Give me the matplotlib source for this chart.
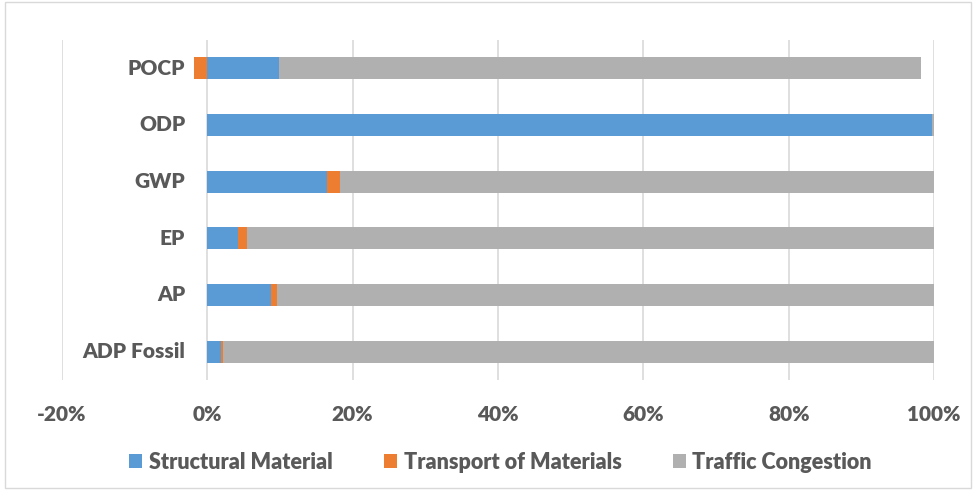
import matplotlib
matplotlib.use("Agg")
import matplotlib.pyplot as plt
from matplotlib.patches import Rectangle
from matplotlib.ticker import FuncFormatter
from matplotlib.transforms import offset_copy

plt.rcParams['font.family'] = ['Lato', 'DejaVu Sans']

# --- data (percent of total impact) ---
categories = ["ADP Fossil", "AP", "EP", "GWP", "ODP", "POCP"]
structural = [1.9, 8.8, 4.2, 16.5, 99.7, 9.9]
transport = [0.3, 0.8, 1.2, 1.8, 0.0, -1.8]
traffic = [97.8, 90.4, 94.6, 81.7, 0.3, 88.3]
xticks = [-20, 0, 20, 40, 60, 80, 100]

c_blue = "#5B9BD5"
c_orange = "#ED7D31"
c_gray = "#B0B0B0"
txt = "#595959"
wt = "heavy"

fig = plt.figure(figsize=(9.76, 4.90), dpi=100)
ax = fig.add_axes([0.0635, 0.2245, 0.8935, 0.694])

y = list(range(len(categories)))
h = 0.39
ax.barh(y, structural, height=h, color=c_blue, label="Structural Material", zorder=3)
# transport stacks after structural (negative values go left of zero)
t_left = [s if t >= 0 else 0 for s, t in zip(structural, transport)]
ax.barh(y, transport, left=t_left, height=h, color=c_orange, label="Transport of Materials", zorder=3)
g_left = [s + max(t, 0) for s, t in zip(structural, transport)]
ax.barh(y, traffic, left=g_left, height=h, color=c_gray, label="Traffic Congestion", zorder=3)

ax.set_xlim(-20, 100)
ax.set_ylim(-0.5, len(categories) - 0.5)
ax.set_xticks(xticks)
ax.xaxis.set_major_formatter(FuncFormatter(lambda v, p: f"{v:.0f}%"))
ax.set_yticks([])
ax.grid(axis="x", color="#D9D9D9", linewidth=1.2, zorder=0)
for s in ax.spines.values():
    s.set_visible(False)
ax.tick_params(length=0, colors=txt, labelsize=15)
ax.tick_params(axis="x", pad=18)
for lab in ax.get_xticklabels():
    lab.set_fontweight(wt)

# category labels sit at the zero line, like Excel's category axis
lab_tr = offset_copy(ax.transData, fig=fig, x=-22, y=0, units="dots")
for yi, name in zip(y, categories):
    ax.text(0, yi, name, transform=lab_tr, ha="right", va="center",
            fontsize=15, fontweight=wt, color=txt)

leg = fig.legend(loc="center", bbox_to_anchor=(0.513, 0.057), ncol=3, frameon=False,
                 prop={"size": 15.5, "weight": wt}, handlelength=0.6, handleheight=0.6,
                 handletextpad=0.3, columnspacing=2.4)
for t in leg.get_texts():
    t.set_color(txt)

# light border round the chart area
fig.patches.append(Rectangle((0.005, 0.005), 0.99, 0.99, transform=fig.transFigure,
                             fill=False, edgecolor="#D9D9D9", linewidth=1))

fig.savefig("out.png", dpi=100)
